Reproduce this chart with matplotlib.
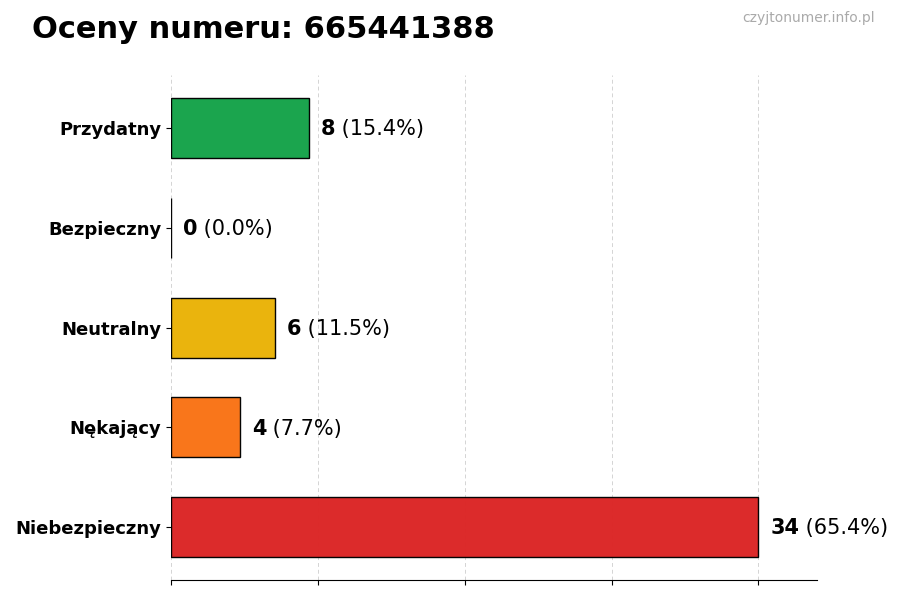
import matplotlib.pyplot as plt
import numpy as np

categories = ["Niebezpieczny", "Nękający", "Neutralny", "Bezpieczny", "Przydatny"]
counts = [34, 4, 6, 0, 8]
colors = ["#dc2626", "#f97316", "#eab308", "#3b82f6", "#16a34a"]
phone = "665441388"

total = sum(counts)

fig = plt.figure(figsize=(9, 6), dpi=100)
ax = fig.add_axes([0.19, 0.033, 0.718, 0.842])

y = np.arange(len(categories))
ax.barh(y, counts, height=0.6, color=colors, edgecolor="black", linewidth=1, alpha=0.98)

xmax = max(counts) * 1.1
ax.set_xlim(0, xmax)
ax.set_xticks(np.linspace(0, max(counts), 5))
ax.set_xticklabels([])
ax.grid(axis="x", linestyle=(0, (4, 3)), color="#d4d4d4", linewidth=0.7)
ax.set_axisbelow(True)

ax.set_yticks(y)
ax.set_yticklabels(categories, fontsize=13, fontweight="bold")

for s in ["top", "right", "left"]:
    ax.spines[s].set_visible(False)

offset = max(counts) * 0.02
for yi, c in zip(y, counts):
    pct = c / total * 100
    t = ax.text(c + offset, yi - 0.012, str(c), va="center", ha="left",
                fontsize=15, fontweight="bold")
    ax.annotate(f" ({pct:.1f}%)", xycoords=t, xy=(1, 0), va="bottom",
                ha="left", fontsize=15)

fig.text(0.035, 0.95, f"Oceny numeru: {phone}", fontsize=22, fontweight="bold",
         ha="left", va="center")
fig.text(0.972, 0.97, "czyjtonumer.info.pl", fontsize=10, color="#aaaaaa",
         ha="right", va="center")

fig.savefig("out.png", dpi=100)
